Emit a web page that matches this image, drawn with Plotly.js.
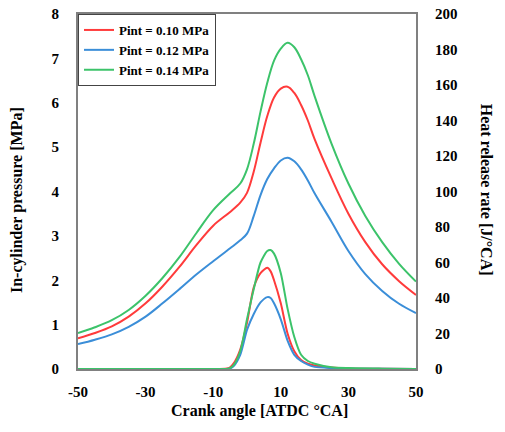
<!DOCTYPE html>
<html>
<head>
<meta charset="utf-8">
<script src="https://cdn.plot.ly/plotly-3.0.1.min.js"></script>
<style>html,body{margin:0;padding:0;background:#fff;}#chart{width:505px;height:432px;}</style>
</head>
<body>
<div id="chart"></div>
<script>
// Crank angle grid for in-cylinder pressure [ATDC °CA]
const pressureAngle = [-50,-45,-40,-35,-30,-25,-20,-15,-10,-5,-2,0,2,4,6,8,10,12,14,16,18,20,25,30,35,40,45,50];
// In-cylinder pressure [MPa]
const pressure010 = [0.69,0.81,0.96,1.18,1.48,1.86,2.30,2.79,3.23,3.54,3.75,3.97,4.45,5.10,5.70,6.12,6.32,6.36,6.22,5.95,5.60,5.18,4.30,3.50,2.86,2.36,1.98,1.67];
const pressure012 = [0.56,0.66,0.78,0.95,1.18,1.48,1.80,2.13,2.43,2.72,2.90,3.05,3.45,3.92,4.28,4.52,4.70,4.76,4.68,4.50,4.25,3.96,3.32,2.66,2.14,1.76,1.47,1.26];
const pressure014 = [0.81,0.94,1.10,1.33,1.65,2.05,2.52,3.06,3.58,3.96,4.18,4.50,5.08,5.80,6.45,6.95,7.22,7.35,7.25,6.98,6.62,6.15,5.08,4.18,3.45,2.86,2.37,1.97];

// Crank angle grid for heat release rate [ATDC °CA]
const hrrAngle = [-50,-10,-6,-5,-4,-2,0,2,4,6,7,8,10,12,14,16,18,20,25,30,40,50];
// Heat release rate [J/°CA]
const hrr010 = [0,0,0.3,1,3,11,26,46,54,57,55,50,37,20,10,5,3,2,0.8,0.3,0.1,0];
const hrr012 = [0,0,0,0.3,1.5,8,22,31,37.5,40.5,40,37,28,16,8,4.5,2.5,1.2,0.5,0.2,0.1,0];
const hrr014 = [0,0,0,0.5,2,10,28,45,60,66.5,67,65,54,34,18,8,4.5,3,1,0.5,0.2,0];

const seriesNames = ['Pint = 0.10 MPa','Pint = 0.12 MPa','Pint = 0.14 MPa'];
const seriesColors = ['#ff3b3b','#3b8ed8','#3cc36a'];
const xTicks = [-50,-30,-10,10,30,50];

const pSeries = [pressure010, pressure012, pressure014];
const hSeries = [hrr010, hrr012, hrr014];

const traces = [];
pSeries.forEach((p,i)=>{
  traces.push({x: pressureAngle, y: p, type:'scatter', mode:'lines', name: seriesNames[i],
    line:{color: seriesColors[i], width:2, shape:'spline', smoothing:1}, yaxis:'y', showlegend:true});
});
hSeries.forEach((h,i)=>{
  traces.push({x: hrrAngle, y: h, type:'scatter', mode:'lines', name: seriesNames[i],
    line:{color: seriesColors[i], width:2, shape:'spline', smoothing:0.7}, yaxis:'y2', showlegend:false});
});

const fontFam = '"Liberation Serif", "Times New Roman", serif';
const tickFont = {family: fontFam, size: 15, color:'#000', weight:'bold'};
const titleFont = {family: fontFam, size: 16, color:'#000', weight:'bold'};

const layout = {
  width:505, height:432,
  margin:{l:78, r:89, t:14, b:63},
  paper_bgcolor:'#fff', plot_bgcolor:'#fff',
  showlegend:true,
  legend:{x:0, y:1, xanchor:'left', yanchor:'top', bgcolor:'#fff', bordercolor:'#444', borderwidth:1,
    font:{family: fontFam, size:13, color:'#000', weight:'bold'}},
  xaxis:{range:[-50,50], tickvals:xTicks, ticktext:xTicks.map(String), showgrid:false, zeroline:false,
    showline:true, linecolor:'#808080', linewidth:2, mirror:true, ticks:'', tickfont:tickFont,
    ticklabelstandoff:8},
  yaxis:{range:[0,8], dtick:1, showgrid:false, zeroline:false, showline:true, linecolor:'#808080', linewidth:2,
    ticks:'', tickfont:tickFont, ticklabelstandoff:14},
  yaxis2:{range:[0,200], dtick:20, overlaying:'y', side:'right', showgrid:false, zeroline:false,
    showline:true, linecolor:'#808080', linewidth:2, ticks:'', tickfont:tickFont, ticklabelstandoff:14},
  annotations:[
    {text:'Crank angle [ATDC °CA]', xref:'paper', yref:'paper', x:0.538, y:0, yshift:-42, showarrow:false,
      xanchor:'center', yanchor:'middle', font:titleFont},
    {text:'In-cylinder pressure [MPa]', xref:'paper', yref:'paper', x:0, xshift:-61, y:0.476, showarrow:false,
      textangle:-90, xanchor:'center', yanchor:'middle', font:titleFont},
    {text:'Heat release rate [J/°CA]', xref:'paper', yref:'paper', x:1, xshift:70, y:0.505, showarrow:false,
      textangle:90, xanchor:'center', yanchor:'middle', font:titleFont}
  ]
};

Plotly.newPlot('chart', traces, layout, {displayModeBar:false, staticPlot:true});
</script>
</body>
</html>
